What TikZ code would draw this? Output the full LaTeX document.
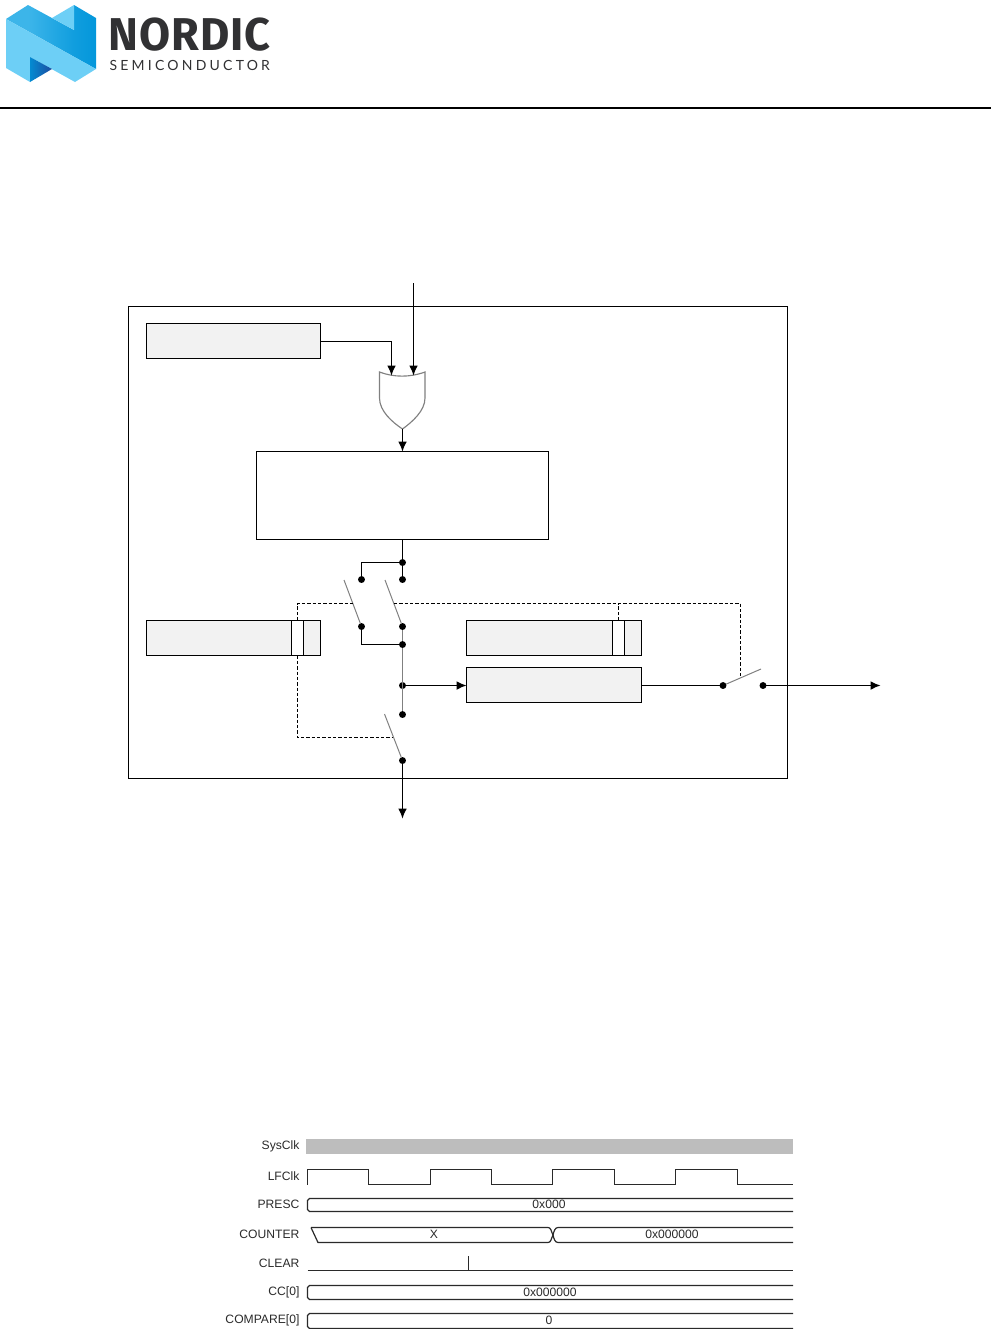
\documentclass[tikz,border=0pt]{standalone}
\usepackage{fontspec}
\setmainfont{Liberation Sans}
\newfontfamily\logofont[LetterSpace=2]{Fira Sans}
\newfontfamily\logosub[LetterSpace=23]{Lato}
\usetikzlibrary{arrows.meta,calc}
\definecolor{boxfill}{HTML}{F2F2F2}
\definecolor{swgrey}{HTML}{808080}
\definecolor{lightN}{HTML}{6DCFF6}
\definecolor{midN}{HTML}{0095DA}
\definecolor{darkN}{HTML}{1C4DA1}
\definecolor{logotext}{HTML}{313133}
\definecolor{sysbar}{HTML}{BDBDBD}
\definecolor{tline}{HTML}{2A2A2A}
\pgfdeclarehorizontalshading{nband}{100bp}{
  color(0bp)=(lightN!55!midN); color(25bp)=(lightN!55!midN);
  color(50bp)=(midN!85!lightN); color(66bp)=(midN); color(72bp)=(midN!80!darkN); color(75bp)=(darkN)}
\tikzset{
  every path/.style={line width=0.85pt},
  regbox/.style={draw=black,fill=boxfill,inner sep=0pt,outer sep=0pt,rectangle},
  plainbox/.style={draw=black,fill=white,inner sep=0pt,outer sep=0pt,rectangle},
  cellbox/.style={draw=black,fill=white,inner sep=0pt,outer sep=0pt,rectangle,minimum width=8.6pt,minimum height=26.25pt},
  jdot/.style={circle,fill=black,inner sep=0pt,outer sep=0pt,minimum size=5.2pt},
  wire/.style={draw=black},
  arrowwire/.style={draw=black,-{Latex[length=7.5pt,width=6.6pt]}},
  greywire/.style={draw=swgrey},
  swlever/.style={draw=swgrey,line width=0.75pt},
  ctrl/.style={draw=black,dash pattern=on 2.6pt off 1.4pt},
  tl/.style={draw=tline,line width=0.9pt},
  tlabel/.style={font=\fontsize{9.1pt}{10pt}\selectfont,text=tline,anchor=east,inner sep=0pt},
  tvalue/.style={font=\fontsize{9.1pt}{10pt}\selectfont,text=tline,inner sep=0pt},
}
\begin{document}
\begin{tikzpicture}[x=0.75pt,y=-0.75pt]
\useasboundingbox (0,0) rectangle (991,1329);
% logo
\shade[shading=nband]
  (6,19) -- (28,5) -- (74,30) -- (74,5) -- (96,18) -- (96,69) -- cycle;
\fill[lightN] (52,18) -- (74,5) -- (74,30) -- cycle;
\fill[lightN] (6,19) -- (96,69) -- (75,82) -- (30,57) -- (30,82) -- (6,68) -- cycle;
\shade[left color=midN!85!darkN,right color=darkN] (30,57) -- (52,69) -- (30,82) -- cycle;
\node[font=\logofont\bfseries\fontsize{34.5pt}{34.5pt}\selectfont,text=logotext,anchor=west,inner sep=0pt,xscale=0.98] (logoname) at (108,35) {NORDIC};
\node[font=\logosub\fontsize{10.5pt}{11pt}\selectfont,text=logotext,anchor=west,inner sep=0pt] (logosubname) at (109,65) {SEMICONDUCTOR};
\coordinate (ruleL) at (0,108);
\coordinate (ruleR) at (991,108);
\draw[line width=1.5pt] (ruleL) -- (ruleR);

% block diagram: frame and boxes
\node[plainbox,fill=none,anchor=north west,minimum width=494.25pt,minimum height=354pt] (frame) at (128.5,306.5) {};
\node[regbox,anchor=north west,minimum width=130.5pt,minimum height=26.25pt] (topreg) at (146.5,323.5) {};
\node[plainbox,anchor=north west,minimum width=219pt,minimum height=66pt] (core) at (256.5,451.5) {};
\node[regbox,anchor=north west,minimum width=130.5pt,minimum height=26.25pt] (leftreg) at (146.5,620.5) {};
\node[cellbox] (leftcell) at (297.5,638) {};
\node[regbox,anchor=north west,minimum width=131.25pt,minimum height=26.25pt] (rightreg) at (466.5,620.5) {};
\node[cellbox] (rightcell) at (618.5,638) {};
\node[regbox,anchor=north west,minimum width=131.25pt,minimum height=26.25pt] (lowreg) at (466.5,667.5) {};

% OR gate
\draw[draw=swgrey,fill=white] (379.5,372) .. controls (394,377.5) and (410,377.5) .. (425,372)
  -- (425,398) .. controls (425,411) and (412,422) .. (402.5,429)
  .. controls (392,422) and (379.5,411) .. (379.5,398) -- cycle;
\coordinate (orout) at (402.5,429);
\coordinate (orinA) at (391.5,375.5);
\coordinate (orinB) at (413.5,375.5);
\coordinate (topin) at (413.5,283);

% junctions
\node[jdot] (j1) at (402.5,562.5) {};
\node[jdot] (j2) at (402.5,579.5) {};
\node[jdot] (j3) at (361.5,579.5) {};
\node[jdot] (j4) at (361.5,626.5) {};
\node[jdot] (j5) at (402.5,626.5) {};
\node[jdot] (j6) at (402.5,644.5) {};
\node[jdot] (j7) at (402.5,685.5) {};
\node[jdot] (j8) at (402.5,714.5) {};
\node[jdot] (j9) at (402.5,760.5) {};
\node[jdot] (j10) at (723,685.5) {};
\node[jdot] (j11) at (763,685.5) {};
\coordinate (outS) at (402.5,818.5);
\coordinate (outE) at (880.5,685.5);

% wires
\draw[arrowwire] (topreg.east |- 0,341.5) -| (orinA);
\draw[arrowwire] (topin) -- (orinB);
\draw[arrowwire] (orout) -- (orout |- core.north);
\draw[wire] (core.south -| j1) -- (j1);
\draw[wire] (j1) -- (j2);
\draw[wire] (j1) -| (j3);
\draw[wire] (j4) |- (j6);
\draw[greywire] (j5) -- (j6);
\draw[greywire] (j6) -- (j8);
\draw[arrowwire] (j7) -- (j7 -| lowreg.west);
\draw[arrowwire] (j9) -- (outS);
\draw[wire] (lowreg.east |- j10) -- (j10);
\draw[arrowwire] (j11) -- (outE);

% switch levers
\coordinate (leverA) at (344,580);
\coordinate (leverB) at (385,580);
\coordinate (leverC) at (384.5,714);
\coordinate (leverD) at (761,669);
\draw[swlever] (leverA) -- (j4);
\draw[swlever] (leverB) -- (j5);
\draw[swlever] (leverC) -- (j9);
\draw[swlever] (j10) -- (leverD);

% control lines
\coordinate (ctrlA) at (353,603.5);
\coordinate (ctrlB) at (394,603.5);
\coordinate (ctrlC) at (393,737.5);
\coordinate (ctrlD) at (740.5,677);
\draw[ctrl] (leftcell.north) |- (ctrlA);
\draw[ctrl] (ctrlB) -| (ctrlD);
\draw[ctrl] (rightcell.north) -- (rightcell.north |- ctrlB);
\draw[ctrl] (leftcell.south) |- (ctrlC);

% timing diagram
\fill[sysbar] (306,1139) rectangle (793,1154);
\node[tlabel] (lsys) at (300,1146) {SysClk};
\node[tlabel] (llf) at (300,1176) {LFClk};
\node[tlabel] (lpre) at (300,1204) {PRESC};
\node[tlabel] (lcnt) at (300,1234) {COUNTER};
\node[tlabel] (lclr) at (300,1263) {CLEAR};
\node[tlabel] (lcc) at (300,1292) {CC[0]};
\node[tlabel] (lcmp) at (300,1320) {COMPARE[0]};
\draw[tl] (307.5,1184.5) -- (307.5,1169.5) -- (368.5,1169.5) -- (368.5,1184.5) -- (430.5,1184.5) -- (430.5,1169.5) -- (491.5,1169.5) -- (491.5,1184.5) -- (552.5,1184.5) -- (552.5,1169.5) -- (614.5,1169.5) -- (614.5,1184.5) -- (675.5,1184.5) -- (675.5,1169.5) -- (737.5,1169.5) -- (737.5,1184.5) -- (793,1184.5);
\draw[tl] (793,1198.5) -- (309.5,1198.5) -- (307.5,1200.5) -- (307.5,1209.5) -- (309.5,1211.5) -- (793,1211.5);
\draw[tl] (311,1227.5) -- (548,1227.5) .. controls (551,1227.5) and (551,1231) .. (553,1235) .. controls (554,1239) and (555,1242.5) .. (558,1242.5) -- (793,1242.5);
\draw[tl] (311,1227.5) -- (318,1242.5) -- (548,1242.5) .. controls (551,1242.5) and (551,1239) .. (553,1235) .. controls (554,1231) and (555,1227.5) .. (558,1227.5) -- (793,1227.5);
\draw[tl] (307.5,1270.5) -- (793,1270.5);
\draw[tl] (468.5,1256) -- (468.5,1270.5);
\draw[tl] (793,1285.5) -- (309.5,1285.5) -- (307.5,1287.5) -- (307.5,1297.5) -- (309.5,1299.5) -- (793,1299.5);
\draw[tl] (793,1313.5) -- (309.5,1313.5) -- (307.5,1315.5) -- (307.5,1326.5) -- (309.5,1328.5) -- (793,1328.5);
\node[tvalue] (vpre) at (549,1204) {0x000};
\node[tvalue] (vx) at (434,1234) {X};
\node[tvalue] (vcnt) at (672,1234) {0x000000};
\node[tvalue] (vcc) at (550,1292) {0x000000};
\node[tvalue] (vcmp) at (549,1320) {0};
\end{tikzpicture}
\end{document}
